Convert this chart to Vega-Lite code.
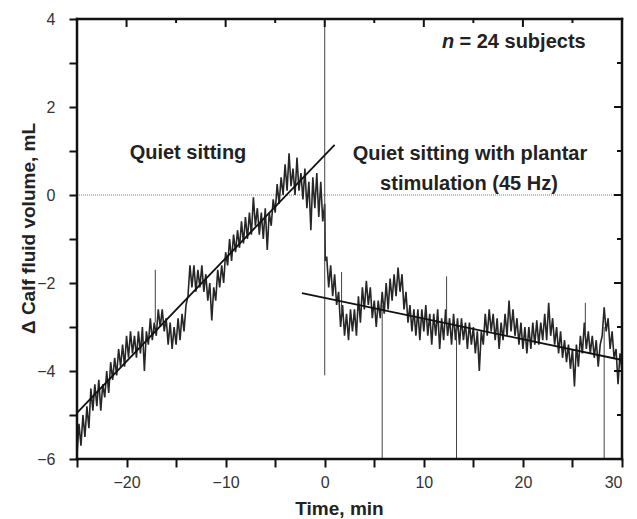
{
  "$schema": "https://vega.github.io/schema/vega-lite/v6.json",
  "width": 545,
  "height": 440,
  "autosize": "none",
  "padding": {"left": 77, "top": 19, "right": 15, "bottom": 60},
  "background": "white",
  "config": {
    "view": {"stroke": null},
    "axis": {"grid": false, "domain": false, "tickColor": "#111", "tickWidth": 2, "tickSize": 8,
      "labelFont": "Liberation Sans", "labelFontSize": 16, "labelColor": "#333",
      "titleFont": "Liberation Sans", "titleFontSize": 19, "titleFontWeight": "bold", "titleColor": "#222"},
    "text": {"font": "Liberation Sans", "fontSize": 20, "fontWeight": "bold", "color": "#222"}
  },
  "datasets": {
    "trace": [
      {"t":-25,"v":-5.9},{"t":-24.8,"v":-5.2},{"t":-24.6,"v":-5.7},{"t":-24.4,"v":-5.0},{"t":-24.2,"v":-5.5},{"t":-24,"v":-4.8},{"t":-23.8,"v":-5.3},{"t":-23.6,"v":-4.4},{"t":-23.4,"v":-4.9},{"t":-23.2,"v":-4.3},
      {"t":-23,"v":-4.8},{"t":-22.8,"v":-4.2},{"t":-22.6,"v":-4.9},{"t":-22.4,"v":-4.3},{"t":-22.2,"v":-4.6},{"t":-22,"v":-4.0},{"t":-21.8,"v":-4.5},{"t":-21.6,"v":-3.8},{"t":-21.4,"v":-4.2},{"t":-21.2,"v":-3.7},
      {"t":-21,"v":-4.1},{"t":-20.8,"v":-3.5},{"t":-20.6,"v":-3.9},{"t":-20.4,"v":-3.4},{"t":-20.2,"v":-3.9},{"t":-20,"v":-3.2},{"t":-19.8,"v":-3.7},{"t":-19.6,"v":-3.1},{"t":-19.4,"v":-3.6},{"t":-19.2,"v":-3.2},
      {"t":-19,"v":-3.7},{"t":-18.8,"v":-3.1},{"t":-18.6,"v":-3.6},{"t":-18.4,"v":-3.0},{"t":-18.2,"v":-4.0},{"t":-18,"v":-3.1},{"t":-17.8,"v":-3.4},{"t":-17.6,"v":-2.8},{"t":-17.4,"v":-3.3},{"t":-17.2,"v":-2.9},
      {"t":-17,"v":-3.2},{"t":-16.8,"v":-2.6},{"t":-16.6,"v":-3.0},{"t":-16.4,"v":-2.6},{"t":-16.2,"v":-3.1},{"t":-16,"v":-2.8},{"t":-15.8,"v":-3.4},{"t":-15.6,"v":-2.9},{"t":-15.4,"v":-3.5},{"t":-15.2,"v":-3.0},
      {"t":-15,"v":-3.4},{"t":-14.8,"v":-2.8},{"t":-14.6,"v":-3.3},{"t":-14.4,"v":-2.7},{"t":-14.2,"v":-3.1},{"t":-14,"v":-2.5},{"t":-13.8,"v":-2.3},{"t":-13.6,"v":-1.6},{"t":-13.4,"v":-2.1},{"t":-13.2,"v":-1.6},
      {"t":-13,"v":-2.2},{"t":-12.8,"v":-1.7},{"t":-12.6,"v":-2.1},{"t":-12.4,"v":-1.6},{"t":-12.2,"v":-2.2},{"t":-12,"v":-1.8},{"t":-11.8,"v":-2.4},{"t":-11.6,"v":-2.0},{"t":-11.4,"v":-2.85},{"t":-11.2,"v":-2.1},
      {"t":-11,"v":-2.4},{"t":-10.8,"v":-1.7},{"t":-10.6,"v":-2.1},{"t":-10.4,"v":-1.6},{"t":-10.2,"v":-2.0},{"t":-10,"v":-1.3},{"t":-9.8,"v":-1.6},{"t":-9.6,"v":-1.0},{"t":-9.4,"v":-1.5},{"t":-9.2,"v":-0.9},
      {"t":-9,"v":-1.3},{"t":-8.8,"v":-0.8},{"t":-8.6,"v":-1.2},{"t":-8.4,"v":-0.6},{"t":-8.2,"v":-1.1},{"t":-8,"v":-0.5},{"t":-7.8,"v":-1.0},{"t":-7.6,"v":-0.4},{"t":-7.4,"v":-0.9},{"t":-7.2,"v":-0.05},
      {"t":-7,"v":-0.7},{"t":-6.8,"v":-0.3},{"t":-6.6,"v":-0.9},{"t":-6.4,"v":-0.4},{"t":-6.2,"v":-1.0},{"t":-6,"v":-0.3},{"t":-5.8,"v":-1.25},{"t":-5.6,"v":-0.4},{"t":-5.4,"v":-0.7},{"t":-5.2,"v":-0.1},
      {"t":-5,"v":-0.4},{"t":-4.8,"v":0.25},{"t":-4.6,"v":-0.2},{"t":-4.4,"v":0.4},{"t":-4.2,"v":0.0},{"t":-4,"v":0.7},{"t":-3.8,"v":0.1},{"t":-3.6,"v":0.95},{"t":-3.4,"v":0.2},{"t":-3.2,"v":0.6},
      {"t":-3,"v":0.0},{"t":-2.8,"v":0.85},{"t":-2.6,"v":0.1},{"t":-2.4,"v":0.5},{"t":-2.2,"v":-0.1},{"t":-2,"v":0.6},{"t":-1.8,"v":-0.3},{"t":-1.6,"v":0.3},{"t":-1.4,"v":-0.8},{"t":-1.2,"v":0.4},
      {"t":-1,"v":-0.3},{"t":-0.8,"v":0.5},{"t":-0.6,"v":-0.5},{"t":-0.4,"v":0.3},{"t":-0.2,"v":-0.6},{"t":0,"v":-0.2},{"t":0.05,"v":-1.5},
      {"t":0.2,"v":-1.4},{"t":0.4,"v":-2.1},{"t":0.6,"v":-1.6},{"t":0.8,"v":-2.3},{"t":1,"v":-1.8},{"t":1.2,"v":-2.5},{"t":1.4,"v":-2.2},{"t":1.6,"v":-3.0},{"t":1.8,"v":-2.5},{"t":2,"v":-3.2},
      {"t":2.2,"v":-2.7},{"t":2.4,"v":-3.3},{"t":2.6,"v":-2.6},{"t":2.8,"v":-3.1},{"t":3,"v":-2.6},{"t":3.2,"v":-3.2},{"t":3.4,"v":-2.3},{"t":3.6,"v":-2.9},{"t":3.8,"v":-2.1},{"t":4,"v":-2.6},
      {"t":4.2,"v":-1.95},{"t":4.4,"v":-2.5},{"t":4.6,"v":-2.1},{"t":4.8,"v":-2.8},{"t":5,"v":-2.4},{"t":5.2,"v":-3.0},{"t":5.4,"v":-2.4},{"t":5.6,"v":-2.8},{"t":5.8,"v":-2.2},{"t":6,"v":-2.7},
      {"t":6.2,"v":-2.0},{"t":6.4,"v":-2.6},{"t":6.6,"v":-1.9},{"t":6.8,"v":-2.4},{"t":7,"v":-1.8},{"t":7.2,"v":-2.3},{"t":7.4,"v":-1.65},{"t":7.6,"v":-2.2},{"t":7.8,"v":-1.8},{"t":8,"v":-2.6},
      {"t":8.2,"v":-2.2},{"t":8.4,"v":-2.9},{"t":8.6,"v":-2.5},{"t":8.8,"v":-3.1},{"t":9,"v":-2.6},{"t":9.2,"v":-3.2},{"t":9.4,"v":-2.6},{"t":9.6,"v":-3.3},{"t":9.8,"v":-2.6},{"t":10,"v":-3.1},
      {"t":10.2,"v":-2.5},{"t":10.4,"v":-3.2},{"t":10.6,"v":-2.7},{"t":10.8,"v":-3.4},{"t":11,"v":-2.7},{"t":11.2,"v":-3.2},{"t":11.4,"v":-2.6},{"t":11.6,"v":-3.5},{"t":11.8,"v":-2.8},{"t":12,"v":-3.3},
      {"t":12.2,"v":-2.6},{"t":12.4,"v":-3.2},{"t":12.6,"v":-2.8},{"t":12.8,"v":-3.4},{"t":13,"v":-2.7},{"t":13.2,"v":-3.3},{"t":13.4,"v":-2.8},{"t":13.6,"v":-3.4},{"t":13.8,"v":-2.8},{"t":14,"v":-3.3},
      {"t":14.2,"v":-2.9},{"t":14.4,"v":-3.5},{"t":14.6,"v":-2.9},{"t":14.8,"v":-3.4},{"t":15,"v":-3.0},{"t":15.2,"v":-3.6},{"t":15.4,"v":-3.1},{"t":15.6,"v":-4.0},{"t":15.8,"v":-3.1},{"t":16,"v":-3.4},
      {"t":16.2,"v":-2.7},{"t":16.4,"v":-3.2},{"t":16.6,"v":-2.6},{"t":16.8,"v":-3.1},{"t":17,"v":-2.7},{"t":17.2,"v":-3.3},{"t":17.4,"v":-2.8},{"t":17.6,"v":-3.5},{"t":17.8,"v":-2.9},{"t":18,"v":-3.3},
      {"t":18.2,"v":-2.7},{"t":18.4,"v":-3.2},{"t":18.6,"v":-2.4},{"t":18.8,"v":-3.1},{"t":19,"v":-2.6},{"t":19.2,"v":-3.2},{"t":19.4,"v":-2.8},{"t":19.6,"v":-3.4},{"t":19.8,"v":-2.9},{"t":20,"v":-3.5},
      {"t":20.2,"v":-3.0},{"t":20.4,"v":-3.6},{"t":20.6,"v":-3.0},{"t":20.8,"v":-3.5},{"t":21,"v":-2.9},{"t":21.2,"v":-3.4},{"t":21.4,"v":-2.85},{"t":21.6,"v":-3.4},{"t":21.8,"v":-2.9},{"t":22,"v":-3.3},
      {"t":22.2,"v":-2.7},{"t":22.4,"v":-3.3},{"t":22.6,"v":-2.45},{"t":22.8,"v":-3.2},{"t":23,"v":-2.8},{"t":23.2,"v":-3.4},{"t":23.4,"v":-3.0},{"t":23.6,"v":-3.6},{"t":23.8,"v":-3.1},{"t":24,"v":-3.7},
      {"t":24.2,"v":-3.3},{"t":24.4,"v":-3.8},{"t":24.6,"v":-3.4},{"t":24.8,"v":-3.95},{"t":25,"v":-3.5},{"t":25.2,"v":-4.35},{"t":25.4,"v":-3.4},{"t":25.6,"v":-3.9},{"t":25.8,"v":-3.2},{"t":26,"v":-3.6},
      {"t":26.2,"v":-2.9},{"t":26.4,"v":-3.5},{"t":26.6,"v":-3.1},{"t":26.8,"v":-3.6},{"t":27,"v":-3.2},{"t":27.2,"v":-3.7},{"t":27.4,"v":-3.3},{"t":27.6,"v":-3.9},{"t":27.8,"v":-3.4},{"t":28,"v":-3.2},
      {"t":28.2,"v":-2.55},{"t":28.4,"v":-3.1},{"t":28.6,"v":-2.8},{"t":28.8,"v":-3.5},{"t":29,"v":-3.1},{"t":29.2,"v":-3.7},{"t":29.4,"v":-3.5},{"t":29.6,"v":-4.3},{"t":29.8,"v":-3.6},{"t":30,"v":-4.0}
    ],
    "spikes": [
      {"t":-17.1,"a":-2.9,"b":-1.7},{"t":0,"a":-4.1,"b":3.95},{"t":1.7,"a":-2.7,"b":-1.75},{"t":5.8,"a":-2.5,"b":-6},
      {"t":12.3,"a":-2.9,"b":-1.85},{"t":13.3,"a":-3.0,"b":-6},{"t":26.3,"a":-3.2,"b":-2.45},{"t":28.2,"a":-3.0,"b":-6}
    ],
    "fits": [
      {"seg":"quiet","t":-25,"v":-4.95},{"seg":"quiet","t":1.0,"v":1.14},
      {"seg":"stim","t":-2.3,"v":-2.23},{"seg":"stim","t":30,"v":-3.75}
    ],
    "frame": [
      {"x0":-25,"x1":30,"y0":-6,"y1":-6},
      {"x0":-25,"x1":30,"y0":4,"y1":4},
      {"x0":-25,"x1":-25,"y0":-6,"y1":4},
      {"x0":30,"x1":30,"y0":-6,"y1":4}
    ],
    "labels": [
      {"t":-13.8,"v":0.82,"text":"Quiet sitting"},
      {"t":14.66,"v":0.8,"text":"Quiet sitting with plantar"},
      {"t":14.56,"v":0.11,"text":"stimulation (45 Hz)"}
    ],
    "nlab": [{"t":11.83,"v":3.34,"text":"n"}],
    "nrest": [{"t":13.6,"v":3.34,"text":"= 24 subjects"}],
    "xticks": [
      {"tick":-20,"major":true},{"tick":-15,"major":false},{"tick":-10,"major":true},{"tick":-5,"major":false},{"tick":0,"major":true},
      {"tick":5,"major":false},{"tick":10,"major":true},{"tick":15,"major":false},{"tick":20,"major":true},{"tick":25,"major":false}
    ],
    "yticks": [
      {"tick":-5,"major":false},{"tick":-4,"major":true},{"tick":-3,"major":false},{"tick":-2,"major":true},{"tick":-1,"major":false},
      {"tick":0,"major":true},{"tick":1,"major":false},{"tick":2,"major":true},{"tick":3,"major":false}
    ]
  },
  "encoding": {
    "x": {"type": "quantitative", "scale": {"domain": [-25, 30], "nice": false, "zero": false},
      "axis": {"orient": "bottom", "values": [-25,-20,-15,-10,-5,0,5,10,15,20,25,30],
        "labelExpr": "datum.value % 10 === 0 ? datum.label : ''",
        "encode": {"ticks": {"update": {"y2": {"signal": "datum.value % 10 !== 0 ? 4 : 8"}}}},
        "labelPadding": 7, "title": "Time, min", "titleX": 262, "titleY": 55, "titleBaseline": "alphabetic", "titleAlign": "center"}},
    "y": {"type": "quantitative", "scale": {"domain": [-6, 4], "nice": false, "zero": false},
      "axis": {"orient": "left", "values": [-6,-5,-4,-3,-2,-1,0,1,2,3,4],
        "labelExpr": "datum.value % 2 === 0 ? datum.label : ''",
        "encode": {"ticks": {"update": {"x2": {"signal": "datum.value % 2 !== 0 ? -5 : -8"}}}},
        "labelPadding": 14, "title": "Δ Calf fluid volume, mL", "titleX": -43, "titleY": 209, "titleAngle": -90, "titleBaseline": "alphabetic", "titleAlign": "center"}}
  },
  "layer": [
    {
      "data": {"values": [{"z": 0}]},
      "mark": {"type": "rule", "color": "#777", "strokeWidth": 1, "strokeDash": [1, 1]},
      "encoding": {"x": null, "y": {"field": "z"}}
    },
    {
      "data": {"name": "trace"},
      "mark": {"type": "line", "color": "#262626", "strokeWidth": 1.6, "clip": true},
      "encoding": {"x": {"field": "t"}, "y": {"field": "v"}}
    },
    {
      "data": {"name": "spikes"},
      "mark": {"type": "rule", "color": "#444", "strokeWidth": 1},
      "encoding": {"x": {"field": "t"}, "y": {"field": "a"}, "y2": {"field": "b"}}
    },
    {
      "data": {"name": "fits"},
      "mark": {"type": "line", "color": "#111", "strokeWidth": 1.8},
      "encoding": {"detail": {"field": "seg"}, "x": {"field": "t"}, "y": {"field": "v"}}
    },
    {
      "data": {"name": "frame"},
      "mark": {"type": "rule", "color": "#111", "strokeWidth": 2.5, "strokeCap": "square"},
      "encoding": {"x": {"field": "x0"}, "x2": {"field": "x1"}, "y": {"field": "y0"}, "y2": {"field": "y1"}}
    },
    {
      "data": {"name": "xticks"},
      "transform": [{"filter": "datum.major"}],
      "mark": {"type": "rule", "color": "#111", "strokeWidth": 2, "y2Offset": 8},
      "encoding": {"x": {"field": "tick"}, "y": {"datum": 4}, "y2": {"datum": 4}}
    },
    {
      "data": {"name": "xticks"},
      "transform": [{"filter": "!datum.major"}],
      "mark": {"type": "rule", "color": "#111", "strokeWidth": 2, "y2Offset": 4},
      "encoding": {"x": {"field": "tick"}, "y": {"datum": 4}, "y2": {"datum": 4}}
    },
    {
      "data": {"name": "yticks"},
      "transform": [{"filter": "datum.major"}],
      "mark": {"type": "rule", "color": "#111", "strokeWidth": 2, "x2Offset": -8},
      "encoding": {"y": {"field": "tick"}, "x": {"datum": 30}, "x2": {"datum": 30}}
    },
    {
      "data": {"name": "yticks"},
      "transform": [{"filter": "!datum.major"}],
      "mark": {"type": "rule", "color": "#111", "strokeWidth": 2, "x2Offset": -5},
      "encoding": {"y": {"field": "tick"}, "x": {"datum": 30}, "x2": {"datum": 30}}
    },
    {
      "data": {"name": "labels"},
      "mark": {"type": "text", "align": "center", "baseline": "alphabetic"},
      "encoding": {"x": {"field": "t"}, "y": {"field": "v"}, "text": {"field": "text"}}
    },
    {
      "data": {"name": "nlab"},
      "mark": {"type": "text", "align": "left", "baseline": "alphabetic", "fontStyle": "italic"},
      "encoding": {"x": {"field": "t"}, "y": {"field": "v"}, "text": {"field": "text"}}
    },
    {
      "data": {"name": "nrest"},
      "mark": {"type": "text", "align": "left", "baseline": "alphabetic"},
      "encoding": {"x": {"field": "t"}, "y": {"field": "v"}, "text": {"field": "text"}}
    }
  ]
}
